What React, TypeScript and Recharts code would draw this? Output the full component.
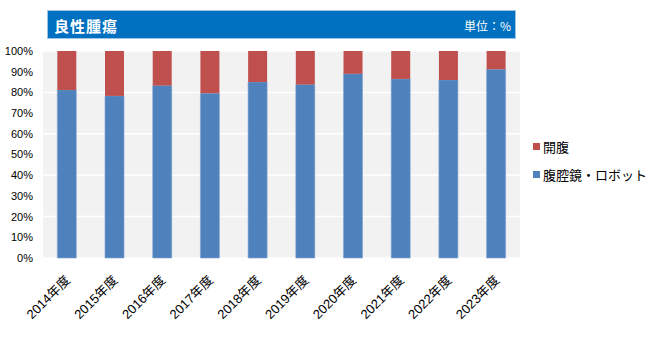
import React from "react";
import { BarChart, Bar, XAxis, YAxis, CartesianGrid } from "recharts";

const categories = ["2014年度", "2015年度", "2016年度", "2017年度", "2018年度", "2019年度", "2020年度", "2021年度", "2022年度", "2023年度"];
const laparoscopic = [81.2, 78.3, 83.3, 79.6, 85.0, 83.8, 89.0, 86.5, 86.0, 91.2];
const openSurgery = laparoscopic.map((v) => Math.round((100 - v) * 10) / 10);
const yTicks = [0, 10, 20, 30, 40, 50, 60, 70, 80, 90, 100];

const data = categories.map((c, i) => ({ name: c, lap: laparoscopic[i], open: openSurgery[i] }));

const FONT = "'Liberation Sans', 'Noto Sans CJK JP', sans-serif";

const XTick = (props: any) => {
  const { x, y, payload } = props;
  return (
    <text
      transform={`translate(${x + 4},${y + 15}) rotate(-45)`}
      textAnchor="end"
      fontSize={13}
      fontFamily={FONT}
      fill="#000"
    >
      {payload.value}
    </text>
  );
};

export default function App() {
  return (
    <div style={{ position: "absolute", left: 0, top: 0, width: 647, height: 354, background: "#fff", fontFamily: FONT }}>
      <div
        style={{
          position: "absolute",
          left: 47,
          top: 10,
          width: 469,
          height: 29,
          background: "#0070C0",
          boxSizing: "border-box",
          border: "1px solid #9DC3E6",
        }}
      >
        <span style={{ position: "absolute", left: 6, top: 4, color: "#fff", fontWeight: "bold", fontSize: 15, fontFamily: "'Noto Sans CJK JP', sans-serif", letterSpacing: 1 }}>
          良性腫瘍
        </span>
        <span style={{ position: "absolute", right: 4, top: 6, color: "#fff", fontSize: 12, fontFamily: "'Noto Sans CJK JP', sans-serif" }}>
          単位：%
        </span>
      </div>
      <BarChart
        width={647}
        height={354}
        data={data}
        margin={{ top: 51, right: 127, bottom: 0, left: 0 }}
        barCategoryGap="30%"
      >
        <CartesianGrid vertical={false} stroke="#ffffff" strokeWidth={1.5} fill="#F2F2F2" />
        <XAxis dataKey="name" axisLine={false} tickLine={false} height={96} interval={0} tick={<XTick />} />
        <YAxis
          width={43}
          domain={[0, 100]}
          ticks={yTicks}
          axisLine={false}
          tickLine={false}
          tickFormatter={(v: number) => `${v}%`}
          tick={{ fontSize: 11, fill: "#000", fontFamily: FONT }}
          tickMargin={4}
        />
        <Bar dataKey="lap" stackId="a" fill="#4F81BD" stroke="#7EA3D0" strokeWidth={0.6} isAnimationActive={false} />
        <Bar dataKey="open" stackId="a" fill="#C0504D" isAnimationActive={false} />
      </BarChart>
      <div style={{ position: "absolute", left: 533, top: 137, fontSize: 13, fontFamily: "'Noto Sans CJK JP', sans-serif", color: "#000" }}>
        <div style={{ display: "flex", alignItems: "center", height: 18 }}>
          <span style={{ display: "inline-block", width: 7, height: 7, background: "#C0504D", marginRight: 3 }} />
          開腹
        </div>
        <div style={{ display: "flex", alignItems: "center", height: 18, marginTop: 10 }}>
          <span style={{ display: "inline-block", width: 7, height: 7, background: "#4F81BD", marginRight: 3 }} />
          腹腔鏡・ロボット
        </div>
      </div>
    </div>
  );
}
